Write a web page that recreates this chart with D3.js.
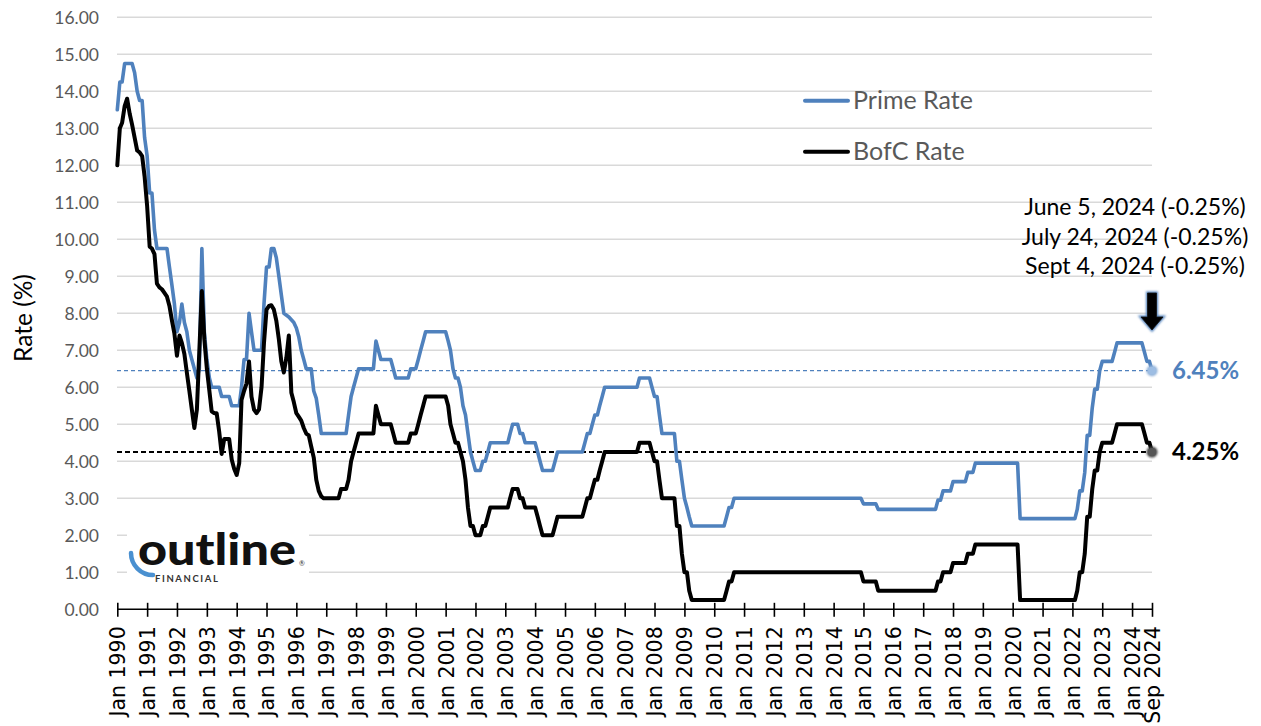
<!DOCTYPE html>
<html><head><meta charset="utf-8">
<script src="https://cdn.jsdelivr.net/npm/d3@7"></script>
<style>body{margin:0;background:#fff}svg{display:block}</style>
</head><body><svg id="c" width="1261" height="726"></svg>
<script>
// ---------- DATA ----------
const primeRate = [
["1990-01",13.5],["1990-02",14.25],["1990-03",14.25],["1990-04",14.75],["1990-07",14.75],["1990-08",14.5],["1990-09",14.0],["1990-10",13.75],["1990-11",13.75],["1990-12",12.75],
["1991-01",12.25],["1991-02",11.25],["1991-03",11.25],["1991-04",10.25],["1991-05",9.75],["1991-09",9.75],["1991-10",9.25],["1991-11",8.75],["1991-12",8.25],
["1992-01",7.5],["1992-02",7.75],["1992-03",8.25],["1992-04",7.75],["1992-05",7.5],["1992-06",7.0],["1992-07",6.75],["1992-08",6.5],["1992-09",6.25],["1992-10",6.5],["1992-11",9.75],["1992-12",7.5],
["1993-01",6.75],["1993-02",6.25],["1993-03",6.0],["1993-06",6.0],["1993-07",5.75],["1993-10",5.75],["1993-11",5.5],
["1994-02",5.5],["1994-03",6.0],["1994-04",6.75],["1994-05",6.75],["1994-06",8.0],["1994-07",7.5],["1994-08",7.0],["1994-11",7.0],["1994-12",8.25],
["1995-01",9.25],["1995-02",9.25],["1995-03",9.75],["1995-04",9.75],["1995-05",9.5],["1995-06",9.0],["1995-07",8.5],["1995-08",8.0],["1995-10",7.9],["1995-12",7.75],
["1996-01",7.6],["1996-02",7.35],["1996-03",7.0],["1996-04",6.75],["1996-05",6.5],["1996-07",6.5],["1996-08",5.9],["1996-09",5.7],["1996-10",5.25],["1996-11",4.75],
["1997-09",4.75],["1997-10",5.25],["1997-11",5.75],["1997-12",6.0],["1998-01",6.25],["1998-02",6.5],["1998-08",6.5],["1998-09",7.25],["1998-10",7.0],["1998-11",6.75],
["1999-03",6.75],["1999-04",6.5],["1999-05",6.25],["1999-10",6.25],["1999-11",6.5],["2000-01",6.5],["2000-02",6.75],["2000-03",7.0],["2000-04",7.25],["2000-05",7.5],
["2001-01",7.5],["2001-02",7.25],["2001-03",7.0],["2001-04",6.5],["2001-05",6.25],["2001-06",6.25],["2001-07",6.0],["2001-08",5.5],["2001-09",5.25],["2001-10",4.75],["2001-11",4.25],["2001-12",4.0],
["2002-01",3.75],["2002-03",3.75],["2002-04",4.0],["2002-05",4.0],["2002-06",4.25],["2002-07",4.5],["2003-02",4.5],["2003-03",4.75],["2003-04",5.0],["2003-06",5.0],["2003-07",4.75],["2003-08",4.75],["2003-09",4.5],
["2004-01",4.5],["2004-02",4.25],["2004-03",4.0],["2004-04",3.75],["2004-08",3.75],["2004-09",4.0],["2004-10",4.25],["2005-08",4.25],["2005-09",4.5],["2005-10",4.75],["2005-11",4.75],["2005-12",5.0],
["2006-01",5.25],["2006-02",5.25],["2006-03",5.5],["2006-04",5.75],["2006-05",6.0],["2007-06",6.0],["2007-07",6.25],["2007-11",6.25],["2007-12",6.0],
["2008-01",5.75],["2008-02",5.75],["2008-03",5.25],["2008-04",4.75],["2008-09",4.75],["2008-10",4.0],["2008-11",4.0],["2008-12",3.5],
["2009-01",3.0],["2009-02",2.75],["2009-03",2.5],["2009-04",2.25],["2010-05",2.25],["2010-06",2.5],["2010-07",2.75],["2010-08",2.75],["2010-09",3.0],
["2014-12",3.0],["2015-01",2.85],["2015-06",2.85],["2015-07",2.7],["2017-06",2.7],["2017-07",2.95],["2017-08",2.95],["2017-09",3.2],["2017-12",3.2],
["2018-01",3.45],["2018-06",3.45],["2018-07",3.7],["2018-09",3.7],["2018-10",3.95],["2020-03",3.95],["2020-04",2.45],["2022-02",2.45],
["2022-03",2.7],["2022-04",3.2],["2022-05",3.2],["2022-06",3.7],["2022-07",4.7],["2022-08",4.7],["2022-09",5.45],["2022-10",5.95],["2022-11",5.95],["2022-12",6.45],
["2023-01",6.7],["2023-05",6.7],["2023-06",6.95],["2023-07",7.2],["2024-05",7.2],["2024-06",6.95],["2024-07",6.7],["2024-08",6.7],["2024-09",6.45]
];
const bofcRate = [
["1990-01",12.0],["1990-02",13.0],["1990-03",13.15],["1990-04",13.6],["1990-05",13.8],["1990-06",13.4],["1990-07",13.1],["1990-08",12.75],["1990-09",12.4],["1990-10",12.35],["1990-11",12.25],["1990-12",11.7],
["1991-01",10.9],["1991-02",9.8],["1991-03",9.75],["1991-04",9.6],["1991-05",8.8],["1991-06",8.7],["1991-07",8.65],["1991-08",8.55],["1991-09",8.45],["1991-10",8.2],["1991-11",7.8],["1991-12",7.45],
["1992-01",6.85],["1992-02",7.4],["1992-03",7.2],["1992-04",6.9],["1992-05",6.4],["1992-06",5.9],["1992-07",5.4],["1992-08",4.9],["1992-09",5.4],["1992-10",7.0],["1992-11",8.6],["1992-12",7.3],
["1993-01",6.5],["1993-02",5.9],["1993-03",5.35],["1993-04",5.3],["1993-05",5.3],["1993-06",4.8],["1993-07",4.2],["1993-08",4.6],["1993-09",4.6],["1993-10",4.6],["1993-11",4.05],["1993-12",3.8],
["1994-01",3.63],["1994-02",3.95],["1994-03",5.66],["1994-04",5.9],["1994-05",6.1],["1994-06",6.7],["1994-07",5.75],["1994-08",5.4],["1994-09",5.3],["1994-10",5.4],["1994-11",6.0],["1994-12",7.2],
["1995-01",8.1],["1995-02",8.2],["1995-03",8.22],["1995-04",8.1],["1995-05",7.8],["1995-06",7.3],["1995-07",6.7],["1995-08",6.4],["1995-09",6.8],["1995-10",7.4],["1995-11",5.85],["1995-12",5.6],
["1996-01",5.3],["1996-02",5.2],["1996-03",5.1],["1996-04",4.9],["1996-05",4.75],["1996-06",4.7],["1996-07",4.4],["1996-08",4.1],["1996-09",3.5],["1996-10",3.2],["1996-11",3.05],["1996-12",3.0],
["1997-06",3.0],["1997-07",3.25],["1997-09",3.25],["1997-10",3.5],["1997-11",4.0],["1997-12",4.25],["1998-01",4.5],["1998-02",4.75],["1998-08",4.75],["1998-09",5.5],["1998-10",5.25],["1998-11",5.0],
["1999-03",5.0],["1999-04",4.75],["1999-05",4.5],["1999-10",4.5],["1999-11",4.75],["2000-01",4.75],["2000-02",5.0],["2000-03",5.25],["2000-04",5.5],["2000-05",5.75],
["2001-01",5.75],["2001-02",5.5],["2001-03",5.0],["2001-04",4.75],["2001-05",4.5],["2001-06",4.5],["2001-07",4.25],["2001-08",4.0],["2001-09",3.5],["2001-10",2.75],["2001-11",2.25],["2001-12",2.25],
["2002-01",2.0],["2002-03",2.0],["2002-04",2.25],["2002-05",2.25],["2002-06",2.5],["2002-07",2.75],["2003-02",2.75],["2003-03",3.0],["2003-04",3.25],["2003-06",3.25],["2003-07",3.0],["2003-08",3.0],["2003-09",2.75],
["2004-01",2.75],["2004-02",2.5],["2004-03",2.25],["2004-04",2.0],["2004-08",2.0],["2004-09",2.25],["2004-10",2.5],["2005-08",2.5],["2005-09",2.75],["2005-10",3.0],["2005-11",3.0],["2005-12",3.25],
["2006-01",3.5],["2006-02",3.5],["2006-03",3.75],["2006-04",4.0],["2006-05",4.25],["2007-06",4.25],["2007-07",4.5],["2007-11",4.5],["2007-12",4.25],
["2008-01",4.0],["2008-02",4.0],["2008-03",3.5],["2008-04",3.0],["2008-09",3.0],["2008-10",2.25],["2008-11",2.25],["2008-12",1.5],
["2009-01",1.0],["2009-02",1.0],["2009-03",0.5],["2009-04",0.25],["2010-05",0.25],["2010-06",0.5],["2010-07",0.75],["2010-08",0.75],["2010-09",1.0],
["2014-12",1.0],["2015-01",0.75],["2015-06",0.75],["2015-07",0.5],["2017-06",0.5],["2017-07",0.75],["2017-08",0.75],["2017-09",1.0],["2017-12",1.0],
["2018-01",1.25],["2018-06",1.25],["2018-07",1.5],["2018-09",1.5],["2018-10",1.75],["2020-03",1.75],["2020-04",0.25],["2022-02",0.25],
["2022-03",0.5],["2022-04",1.0],["2022-05",1.0],["2022-06",1.5],["2022-07",2.5],["2022-08",2.5],["2022-09",3.25],["2022-10",3.75],["2022-11",3.75],["2022-12",4.25],
["2023-01",4.5],["2023-05",4.5],["2023-06",4.75],["2023-07",5.0],["2024-05",5.0],["2024-06",4.75],["2024-07",4.5],["2024-08",4.5],["2024-09",4.25]
];
const seriesNames = ["Prime Rate","BofC Rate"];
const yTickValues = [0,1,2,3,4,5,6,7,8,9,10,11,12,13,14,15,16];
const xTickMonths = ["1990-01","1991-01","1992-01","1993-01","1994-01","1995-01","1996-01","1997-01","1998-01","1999-01",
"2000-01","2001-01","2002-01","2003-01","2004-01","2005-01","2006-01","2007-01","2008-01","2009-01","2010-01","2011-01",
"2012-01","2013-01","2014-01","2015-01","2016-01","2017-01","2018-01","2019-01","2020-01","2021-01","2022-01","2023-01","2024-01","2024-09"];
const annotationLines = ["June 5, 2024 (-0.25%)","July 24, 2024 (-0.25%)","Sept 4, 2024 (-0.25%)"];
const latestValues = [6.45, 4.25];
const latestLabels = ["6.45%","4.25%"];

// ---------- CHART ----------
const parse = d3.timeParse("%Y-%m");
const svg = d3.select("#c");
const colors = ["#4f81bd","#000000"];
const x = d3.scaleTime().domain([parse("1990-01"), parse("2024-09")]).range([117.3, 1152]);
const y = d3.scaleLinear().domain([0,16]).range([609.3, 17.3]);

const defs = svg.append("defs");
const blur = defs.append("filter").attr("id","soft").attr("x","-50%").attr("y","-50%").attr("width","200%").attr("height","200%");
blur.append("feGaussianBlur").attr("stdDeviation",1.2);

// gridlines
svg.append("g").selectAll("line").data(yTickValues.filter(d=>d>0)).join("line")
  .attr("x1",117).attr("x2",1152).attr("y1",d=>y(d)).attr("y2",d=>y(d))
  .attr("stroke","#d9d9d9").attr("stroke-width",1.6);

// y tick labels
svg.append("g").selectAll("text").data(yTickValues).join("text")
  .attr("x",99).attr("y",d=>y(d)).attr("dy","0.36em").attr("text-anchor","end")
  .attr("font-family","Lato").attr("font-size",17.5).attr("fill","#595959")
  .text(d=>d3.format(".2f")(d));

// axis title
svg.append("text").attr("transform","translate(32,318) rotate(-90)").attr("text-anchor","middle")
  .attr("font-family","Lato").attr("font-size",24.5).attr("fill","#000").text("Rate (%)");

// dashed reference lines at latest values
svg.append("line").attr("x1",117).attr("x2",1152).attr("y1",y(latestValues[0])).attr("y2",y(latestValues[0]))
  .attr("stroke",colors[0]).attr("stroke-width",1.3).attr("stroke-dasharray","4,3");
svg.append("line").attr("x1",117).attr("x2",1152).attr("y1",y(latestValues[1])).attr("y2",y(latestValues[1]))
  .attr("stroke","#000").attr("stroke-width",2).attr("stroke-dasharray","5,3");

// logo
const logo = svg.append("g");
logo.append("rect").attr("x",127).attr("y",526).attr("width",182).attr("height",62).attr("fill","#fff");
logo.append("path").attr("d","M131,553 A22,22 0 0 0 153,575").attr("fill","none").attr("stroke","#4a90d0").attr("stroke-width",4.5).attr("stroke-linecap","round");
logo.append("text").attr("x",138).attr("y",565).attr("font-family","Lato").attr("font-weight",900).attr("font-size",44)
  .attr("textLength",158).attr("lengthAdjust","spacingAndGlyphs").attr("fill","#111").text("outline");
logo.append("text").attr("x",155).attr("y",582).attr("font-family","Lato").attr("font-weight",700).attr("font-size",9.5)
  .attr("letter-spacing",1.6).attr("fill","#333").text("FINANCIAL");
logo.append("text").attr("x",299).attr("y",566).attr("font-family","Lato").attr("font-size",7).attr("fill","#333").text("®");

// lines
const line = d3.line().x(d=>x(parse(d[0]))).y(d=>y(d[1])).curve(d3.curveLinear);
[primeRate,bofcRate].forEach((s,i)=>{
  svg.append("path").datum(s).attr("d",line).attr("fill","none").attr("stroke",colors[i])
    .attr("stroke-width",i===0?3.6:4).attr("stroke-linejoin","round").attr("stroke-linecap","round");
});

// x axis
const xTicks = xTickMonths.map(parse);
const xa = svg.append("g").attr("transform","translate(0,609.3)")
  .call(d3.axisBottom(x).tickValues(xTicks).tickFormat(d3.timeFormat("%b %Y")).tickSize(0).tickPadding(0));
xa.select(".domain").attr("stroke","#000").attr("stroke-width",1.6).attr("d","M117,0H1152");
xa.selectAll(".tick line").attr("y1",-6.5).attr("y2",7.5).attr("stroke","#000").attr("stroke-width",1.6);
xa.selectAll(".tick text").attr("transform","rotate(-90)").attr("text-anchor","end")
  .attr("x",-17).attr("y",0).attr("dy","0.36em")
  .attr("font-family","DejaVu Sans").attr("font-size",20.5).attr("fill","#000");

// legend
seriesNames.forEach((n,i)=>{
  const ly = 100.7 + i*51;
  svg.append("line").attr("x1",805).attr("x2",848).attr("y1",ly).attr("y2",ly)
    .attr("stroke",colors[i]).attr("stroke-width",4).attr("stroke-linecap","round");
  svg.append("text").attr("x",853).attr("y",ly+8.5).attr("font-family","Lato").attr("font-size",25)
    .attr("fill","#595959").text(n);
});

// annotations
annotationLines.forEach((t,i)=>{
  svg.append("text").attr("x",1135).attr("y",215+i*29.5).attr("text-anchor","middle")
    .attr("font-family","Lato").attr("font-size",23).attr("fill","#000").text(t);
});

// arrow
const arrowPath = "M1147.5,293 H1156.5 V317 H1163 L1152,330 L1141,317 H1147.5 Z";
svg.append("path").attr("d",arrowPath).attr("fill","none").attr("stroke","#4f81bd").attr("stroke-width",3).attr("filter","url(#soft)");
svg.append("path").attr("d",arrowPath).attr("fill","#000").attr("stroke","#111").attr("stroke-width",0.8);

// end dots
const lastDate = parse(xTickMonths[xTickMonths.length-1]);
svg.append("circle").attr("cx",x(lastDate)).attr("cy",y(latestValues[0])).attr("r",5.5).attr("fill","#8fb0d8").attr("filter","url(#soft)");
svg.append("circle").attr("cx",x(lastDate)).attr("cy",y(latestValues[0])).attr("r",4).attr("fill","#9dbde3");
svg.append("circle").attr("cx",x(lastDate)).attr("cy",y(latestValues[1])).attr("r",5.5).attr("fill","#444").attr("filter","url(#soft)");
svg.append("circle").attr("cx",x(lastDate)).attr("cy",y(latestValues[1])).attr("r",4).attr("fill","#555");

// value labels
latestLabels.forEach((t,i)=>{
  svg.append("text").attr("x",1172).attr("y",y(latestValues[i])+8).attr("font-family","Lato").attr("font-weight",700)
    .attr("font-size",24).attr("fill",i===0?"#4f81bd":"#000").text(t);
});
</script></body></html>
